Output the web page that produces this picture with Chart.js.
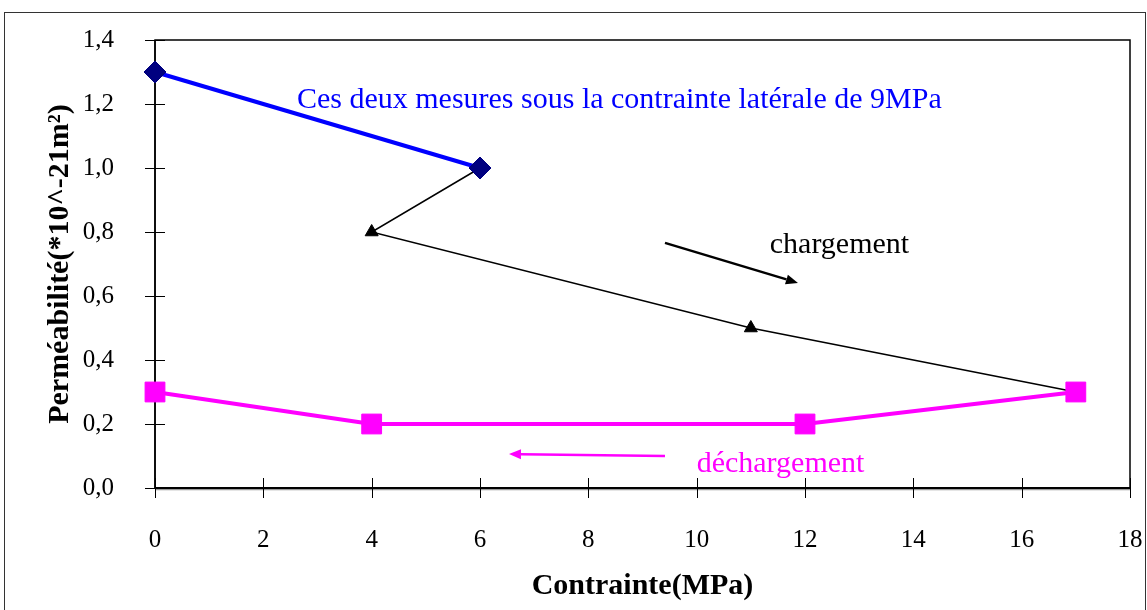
<!DOCTYPE html>
<html>
<head>
<meta charset="utf-8">
<script src="https://cdn.jsdelivr.net/npm/chart.js@4.4.1/dist/chart.umd.min.js"></script>
<style>
  html, body { margin: 0; padding: 0; background: #fff; }
  #wrap { position: relative; width: 1147px; height: 610px; }
</style>
</head>
<body>
<div id="wrap"><canvas id="c" width="1147" height="610"></canvas></div>
<script>
// ---- Data ----
const lateralX = [0, 6];
const lateralY = [1.3, 1.0];
const chargementX = [6, 4, 11, 17];
const chargementY = [1.0, 0.8, 0.5, 0.3];
const dechargementX = [0, 4, 12, 17];
const dechargementY = [0.3, 0.2, 0.2, 0.3];
const xTicks = [0, 2, 4, 6, 8, 10, 12, 14, 16, 18];
const yTicks = [0, 0.2, 0.4, 0.6, 0.8, 1.0, 1.2, 1.4];
const xTitle = 'Contrainte(MPa)';
const yTitle = 'Perméabilité(*10^-21m²)';
const noteLateral = 'Ces deux mesures sous la contrainte latérale de 9MPa';
const noteCharge = 'chargement';
const noteDecharge = 'déchargement';

const toPts = (xs, ys) => xs.map((x, i) => ({x: x, y: ys[i]}));

// annotation placement (data units)
const annotations = {
  texts: [
    {text: noteLateral, x: 2.62, y: 1.1875, color: '#0000FF'},
    {text: noteCharge, x: 11.35, y: 0.734, color: '#000000'},
    {text: noteDecharge, x: 10.0, y: 0.05, color: '#FF00FF'}
  ],
  arrows: [
    {x0: 9.415, y0: 0.766, x1: 11.87, y1: 0.641, color: '#000000', width: 2.5},
    {x0: 9.415, y0: 0.100, x1: 6.535, y1: 0.106, color: '#FF00FF', width: 2.5}
  ]
};

const SERIF = '"Liberation Serif", "Times New Roman", serif';

const decor = {
  id: 'decor',
  beforeDraw(chart) {
    const ctx = chart.ctx;
    ctx.save();
    ctx.fillStyle = '#fff';
    ctx.fillRect(0, 0, chart.width, chart.height);
    ctx.strokeStyle = '#333';
    ctx.lineWidth = 1;
    ctx.strokeRect(4.5, 12.5, 1141, 620);
    ctx.restore();
  },
  beforeDatasetsDraw(chart) {
    const ctx = chart.ctx;
    const a = chart.chartArea;
    const xs = chart.scales.x, ys = chart.scales.y;
    ctx.save();
    ctx.strokeStyle = '#000';
    ctx.lineWidth = 1.5;
    ctx.strokeRect(a.left, a.top, a.right - a.left, a.bottom - a.top);
    ctx.strokeStyle = '#999';
    ctx.lineWidth = 1.5;
    ctx.beginPath(); ctx.moveTo(a.left, a.bottom + 1.5); ctx.lineTo(a.right + 1, a.bottom + 1.5); ctx.stroke();
    ctx.strokeStyle = '#000';
    ctx.lineWidth = 2;
    ctx.beginPath(); ctx.moveTo(a.left, a.bottom); ctx.lineTo(a.right, a.bottom); ctx.stroke();
    ctx.lineWidth = 1;
    ctx.beginPath();
    xTicks.forEach(v => {
      const px = Math.round(xs.getPixelForValue(v)) + 0.5;
      ctx.moveTo(px, a.bottom - 10); ctx.lineTo(px, a.bottom + 10);
    });
    yTicks.forEach(v => {
      const py = Math.round(ys.getPixelForValue(v)) + 0.5;
      ctx.moveTo(a.left - 10, py); ctx.lineTo(a.left + 10, py);
    });
    ctx.stroke();
    ctx.lineWidth = 1.5;
    ctx.beginPath(); ctx.moveTo(a.left, a.top); ctx.lineTo(a.left, a.bottom); ctx.stroke();
    ctx.restore();
  },
  afterDatasetsDraw(chart) {
    const ctx = chart.ctx;
    const xs = chart.scales.x, ys = chart.scales.y;
    ctx.save();
    annotations.arrows.forEach(ar => {
      const x0 = xs.getPixelForValue(ar.x0), y0 = ys.getPixelForValue(ar.y0);
      const x1 = xs.getPixelForValue(ar.x1), y1 = ys.getPixelForValue(ar.y1);
      const ang = Math.atan2(y1 - y0, x1 - x0);
      const hl = 12, hw = 5;
      const bx = x1 - Math.cos(ang) * hl, by = y1 - Math.sin(ang) * hl;
      ctx.strokeStyle = ar.color; ctx.fillStyle = ar.color; ctx.lineWidth = ar.width;
      ctx.beginPath(); ctx.moveTo(x0, y0); ctx.lineTo(bx, by); ctx.stroke();
      ctx.beginPath();
      ctx.moveTo(x1, y1);
      ctx.lineTo(bx + Math.sin(ang) * hw, by - Math.cos(ang) * hw);
      ctx.lineTo(bx - Math.sin(ang) * hw, by + Math.cos(ang) * hw);
      ctx.closePath(); ctx.fill();
    });
    ctx.font = '30px ' + SERIF;
    ctx.textBaseline = 'alphabetic';
    ctx.textAlign = 'left';
    annotations.texts.forEach(t => {
      ctx.fillStyle = t.color;
      ctx.fillText(t.text, xs.getPixelForValue(t.x), ys.getPixelForValue(t.y));
    });
    ctx.restore();
  }
};

new Chart(document.getElementById('c'), {
  type: 'line',
  data: {
    datasets: [
      {
        label: 'latérale 9MPa',
        data: toPts(lateralX, lateralY),
        borderColor: '#0000FF', borderWidth: 4,
        pointStyle: 'rectRot', pointRadius: 11,
        pointBackgroundColor: '#000080', pointBorderColor: '#000080', pointBorderWidth: 1,
        clip: false,
        order: 0
      },
      {
        label: 'déchargement',
        data: toPts(dechargementX, dechargementY),
        borderColor: '#FF00FF', borderWidth: 4,
        pointStyle: 'rect', pointRadius: 14,
        pointBackgroundColor: '#FF00FF', pointBorderColor: '#FF00FF', pointBorderWidth: 1,
        clip: false,
        order: 1
      },
      {
        label: 'chargement',
        data: toPts(chargementX, chargementY),
        borderColor: '#000000', borderWidth: 1.5,
        pointStyle: 'triangle', pointRadius: 7.5,
        pointBackgroundColor: '#000000', pointBorderColor: '#000000', pointBorderWidth: 1,
        clip: false,
        order: 2
      }
    ]
  },
  options: {
    responsive: false,
    animation: false,
    events: [],
    layout: { padding: { left: 0, top: 40, right: 17, bottom: 0 } },
    plugins: { legend: { display: false }, tooltip: { enabled: false } },
    elements: { line: { tension: 0 } },
    scales: {
      x: {
        type: 'linear', min: 0, max: 18,
        afterBuildTicks: s => { s.ticks = xTicks.map(v => ({value: v})); },
        afterFit: s => { s.height = 122; s.paddingLeft = 0; s.paddingRight = 0; },
        grid: { display: false },
        border: { display: false },
        ticks: {
          color: '#000', padding: 29, maxRotation: 0, autoSkip: false,
          font: { family: SERIF, size: 25 },
          callback: v => String(v)
        },
        title: {
          display: true, text: xTitle, color: '#000',
          font: { family: SERIF, size: 30, weight: 'bold' },
          padding: { top: 0, bottom: 6 }
        }
      },
      y: {
        type: 'linear', min: 0, max: 1.4,
        afterBuildTicks: s => { s.ticks = yTicks.map(v => ({value: v})); },
        afterFit: s => { s.width = 155; s.paddingTop = 0; s.paddingBottom = 0; },
        grid: { display: false },
        border: { display: false },
        ticks: {
          color: '#000', padding: 33, autoSkip: false,
          font: { family: SERIF, size: 25 },
          callback: v => Number(v).toFixed(1).replace('.', ',')
        },
        title: {
          display: true, text: yTitle, color: '#000',
          font: { family: SERIF, size: 30, weight: 'bold' },
          padding: { top: 42, bottom: 0 }
        }
      }
    }
  },
  plugins: [decor]
});
</script>
</body>
</html>
